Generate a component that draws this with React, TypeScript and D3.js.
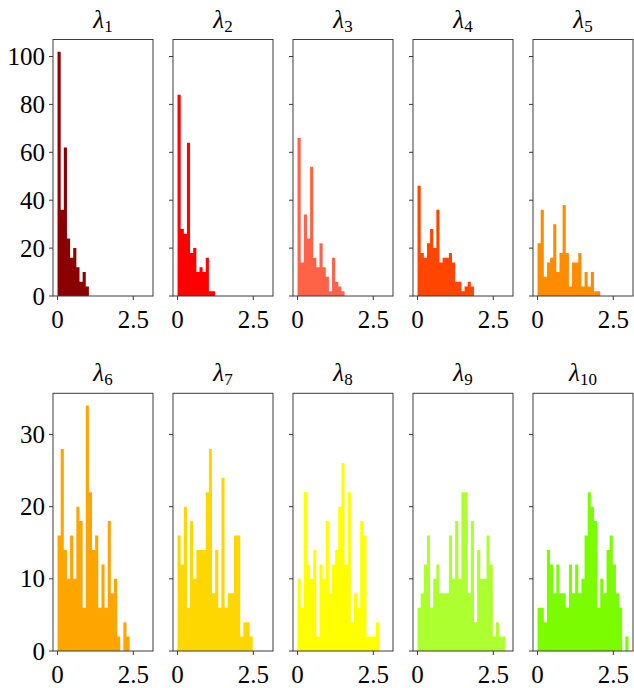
import React from "react";
import * as d3 from "d3";

// Shared histogram bin edges
const BIN_MIN = 0;
const BIN_MAX = 3.0;
const N_BINS = 29;

// Counts per panel (bins beyond array length are empty)
const lambda1 = [102, 36, 62, 24, 16, 20, 12, 6, 10, 4];
const lambda2 = [84, 28, 26, 64, 18, 20, 10, 12, 10, 16, 2, 2];
const lambda3 = [66, 14, 34, 24, 54, 16, 12, 22, 12, 8, 2, 16, 6, 4, 2];
const lambda4 = [46, 18, 16, 22, 28, 20, 36, 14, 16, 16, 18, 14, 6, 6, 2, 4, 6, 4];
const lambda5 = [22, 36, 8, 14, 16, 30, 10, 18, 38, 18, 4, 14, 14, 18, 4, 10, 4, 10, 2, 2];
const lambda6 = [16, 28, 14, 10, 16, 10, 20, 18, 6, 34, 22, 14, 16, 6, 12, 6, 18, 8, 10, 2, 0, 4, 2];
const lambda7 = [16, 12, 20, 6, 18, 10, 14, 14, 14, 22, 28, 8, 14, 6, 24, 6, 8, 8, 16, 16, 2, 4, 4, 2];
const lambda8 = [10, 6, 22, 12, 10, 14, 2, 12, 10, 18, 8, 12, 14, 20, 26, 12, 22, 4, 8, 6, 18, 16, 2, 2, 2, 4];
const lambda9 = [6, 8, 12, 16, 6, 10, 12, 8, 8, 8, 16, 10, 18, 10, 22, 22, 8, 18, 4, 14, 10, 10, 16, 12, 2, 4, 2, 2];
const lambda10 = [6, 6, 4, 14, 12, 8, 12, 8, 8, 6, 12, 8, 12, 8, 10, 16, 22, 20, 18, 6, 10, 8, 14, 16, 12, 8, 6, 0, 2];

const seriesCounts = [lambda1, lambda2, lambda3, lambda4, lambda5, lambda6, lambda7, lambda8, lambda9, lambda10];
const seriesNames = ["1", "2", "3", "4", "5", "6", "7", "8", "9", "10"];
const seriesColors = [
  "#8B0000", "#FF0000", "#FF6347", "#FF4500", "#FF8C00",
  "#FFA500", "#FFD700", "#FFFF00", "#ADFF2F", "#7CFC00",
];

const xTicks = [0, 2.5];
const xTickLabels = ["0", "2.5"];
const yTicksRow1 = [0, 20, 40, 60, 80, 100];
const yTicksRow2 = [0, 10, 20, 30];

const W = 634;
const H = 688;
const FONT = "'Times New Roman', 'Liberation Serif', serif";
const AXIS = "#3a3a3a";

const colLeft = (c: number) => 53 + 120 * c;
const PANEL_W = 100;
const rows = [
  { top: 39.5, bottom: 296, ticks: yTicksRow1 },
  { top: 393.3, bottom: 651, ticks: yTicksRow2 },
];

const binWidth = (BIN_MAX - BIN_MIN) / N_BINS;

function Panel({ idx }: { idx: number }) {
  const r = Math.floor(idx / 5);
  const c = idx % 5;
  const row = rows[r];
  const left = colLeft(c);
  const right = left + PANEL_W;
  const counts = seriesCounts[idx];
  const rowMax = d3.max(seriesCounts.slice(r * 5, r * 5 + 5).flat()) as number;
  const pad = 0.05 * (BIN_MAX - BIN_MIN);
  const x = d3.scaleLinear().domain([BIN_MIN - pad, BIN_MAX + pad]).range([left, right]);
  const y = d3.scaleLinear().domain([0, rowMax * 1.05]).range([row.bottom, row.top]);
  const cx = (left + right) / 2;
  const titleY = row.top - 12;

  // Build histogram outline as a single step path
  const p = d3.path();
  p.moveTo(x(BIN_MIN), y(0));
  counts.forEach((v, i) => {
    p.lineTo(x(BIN_MIN + i * binWidth), y(v));
    p.lineTo(x(BIN_MIN + (i + 1) * binWidth), y(v));
  });
  p.lineTo(x(BIN_MIN + counts.length * binWidth), y(0));
  p.closePath();

  return (
    <g>
      <path d={p.toString()} fill={seriesColors[idx]} stroke="none" />
      <rect x={left} y={row.top} width={PANEL_W} height={row.bottom - row.top} fill="none" stroke={AXIS} strokeWidth={1} />
      {row.ticks.map((t) => (
        <g key={"y" + t}>
          <line x1={left - 4} x2={left} y1={y(t)} y2={y(t)} stroke={AXIS} strokeWidth={1} />
          {c === 0 && (
            <text x={left - 8} y={y(t)} dy="0.34em" textAnchor="end" fontFamily={FONT} fontSize={25} fill="#000">
              {t}
            </text>
          )}
        </g>
      ))}
      {xTicks.map((t, k) => (
        <g key={"x" + t}>
          <line x1={x(t)} x2={x(t)} y1={row.bottom} y2={row.bottom + 4} stroke={AXIS} strokeWidth={1} />
          <text x={x(t)} y={row.bottom + 32} textAnchor="middle" fontFamily={FONT} fontSize={25} fill="#000">
            {xTickLabels[k]}
          </text>
        </g>
      ))}
      <text x={cx} y={titleY} textAnchor="middle" fontFamily={FONT} fontSize={25} fill="#000">
        <tspan fontStyle="italic">λ</tspan>
        <tspan fontSize={17} dy={4}>{seriesNames[idx]}</tspan>
      </text>
    </g>
  );
}

export default function App() {
  return (
    <svg width={W} height={H} style={{ position: "absolute", left: 0, top: 0, background: "#fff" }}>
      <rect x={0} y={0} width={W} height={H} fill="#fff" />
      {seriesCounts.map((_, i) => (
        <Panel key={i} idx={i} />
      ))}
    </svg>
  );
}
